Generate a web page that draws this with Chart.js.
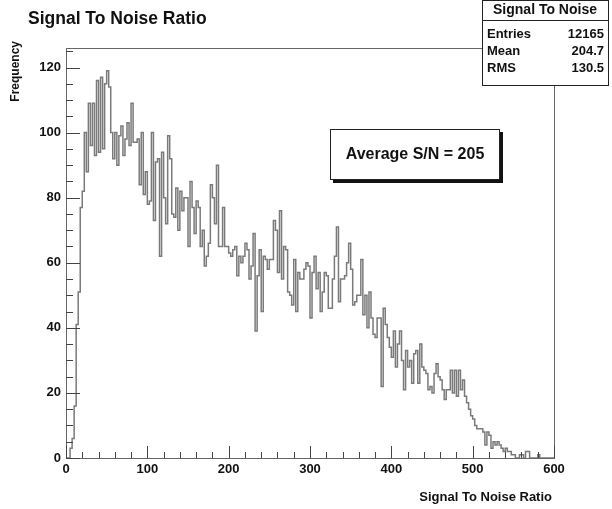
<!DOCTYPE html>
<html>
<head>
<meta charset="utf-8">
<script src="https://cdn.jsdelivr.net/npm/chart.js@4.4.1/dist/chart.umd.min.js"></script>
<style>
  html, body { margin: 0; padding: 0; background: #fff; }
  #wrap { width: 612px; height: 509px; position: relative; }
</style>
</head>
<body>
<div id="wrap"><canvas id="myChart"></canvas></div>
<script>
// histogram: 240 bins of width 2.5 from 0 to 600
const xMin = 0;
const xMax = 600;
const binWidth = 2.5;
const counts = [
  0, 0, 0, 3, 6, 16, 41, 51, 77, 82,
  100, 88, 109, 96, 109, 93, 116, 94, 117, 95,
  115, 119, 114, 100, 92, 100, 90, 99, 102, 93,
  98, 103, 96, 109, 97, 97, 98, 84, 100, 81,
  88, 78, 79, 100, 73, 91, 92, 62, 94, 80,
  72, 99, 92, 75, 74, 83, 70, 82, 76, 80,
  80, 65, 85, 77, 69, 79, 77, 65, 70, 59,
  62, 66, 84, 80, 72, 90, 65, 65, 77, 65,
  65, 63, 62, 64, 65, 56, 62, 60, 62, 66,
  64, 55, 59, 69, 39, 56, 64, 45, 62, 61,
  58, 61, 61, 73, 70, 57, 76, 55, 65, 64,
  51, 50, 47, 61, 45, 57, 55, 55, 58, 60,
  59, 43, 57, 62, 52, 57, 45, 51, 57, 56,
  46, 46, 55, 62, 71, 48, 55, 55, 56, 60,
  66, 58, 47, 48, 50, 50, 61, 44, 50, 40,
  51, 43, 38, 37, 43, 43, 22, 46, 41, 37,
  34, 31, 39, 28, 35, 39, 30, 21, 33, 28,
  30, 23, 32, 33, 23, 35, 28, 27, 26, 21,
  22, 20, 26, 29, 25, 24, 21, 18, 21, 21,
  27, 20, 27, 19, 27, 21, 24, 19, 17, 15,
  13, 12, 10, 9, 9, 9, 8, 4, 8, 7,
  3, 5, 4, 5, 4, 3, 2, 3, 2, 2,
  1, 1, 0, 0, 1, 1, 0, 2, 2, 0,
  0, 0, 0, 1, 0, 0, 0, 0, 0, 0
];
const yMax = 126;
const xTicks = [0, 100, 200, 300, 400, 500, 600];
const yTicks = [0, 20, 40, 60, 80, 100, 120];
const xMinorStep = 20;
const yMinorStep = 5;

const statsTitle = 'Signal To Noise';
const statsRows = [['Entries', '12165'], ['Mean', '204.7'], ['RMS', '130.5']];
const noteText = 'Average S/N = 205';

// step points at bin left edges, plus closing point at the right edge
const points = counts.map((c, i) => ({ x: xMin + i * binWidth, y: c }));
points.push({ x: xMax, y: counts[counts.length - 1] });

const FONT = "'Liberation Sans', Arial, Helvetica, sans-serif";

function line(ctx, x1, y1, x2, y2) {
  ctx.beginPath(); ctx.moveTo(x1, y1); ctx.lineTo(x2, y2); ctx.stroke();
}

const overlay = {
  id: 'overlay',
  afterDraw(chart) {
    const { ctx, chartArea: a, scales: { x, y } } = chart;
    ctx.save();
    ctx.strokeStyle = '#666';
    ctx.lineWidth = 1;
    ctx.strokeRect(Math.round(a.left) + 0.5, Math.round(a.top) + 0.5,
      Math.round(a.right - a.left), Math.round(a.bottom - a.top));

    // tick marks inside the frame
    ctx.strokeStyle = '#444';
    for (let v = xMin; v <= xMax; v += xMinorStep) {
      const px = Math.round(x.getPixelForValue(v)) + 0.5;
      const len = v % 100 === 0 ? 12 : 6;
      line(ctx, px, a.bottom, px, a.bottom - len);
    }
    for (let v = 0; v <= yMax; v += yMinorStep) {
      const py = Math.round(y.getPixelForValue(v)) + 0.5;
      const len = v % 20 === 0 ? 14 : 7;
      line(ctx, a.left, py, a.left + len, py);
    }

    ctx.fillStyle = '#111';
    ctx.font = 'bold 13px ' + FONT;
    ctx.textAlign = 'center'; ctx.textBaseline = 'top';
    xTicks.forEach(v => ctx.fillText(String(v), x.getPixelForValue(v), a.bottom + 5));
    ctx.textAlign = 'right'; ctx.textBaseline = 'middle';
    yTicks.forEach(v => ctx.fillText(String(v), a.left - 5, y.getPixelForValue(v)));

    // axis titles
    ctx.font = 'bold 13px ' + FONT;
    ctx.textAlign = 'right'; ctx.textBaseline = 'middle';
    ctx.fillText('Signal To Noise Ratio', a.right - 2, 497);
    ctx.save();
    ctx.translate(16, a.top - 7);
    ctx.rotate(-Math.PI / 2);
    ctx.font = 'bold 12px ' + FONT;
    ctx.textAlign = 'right';
    ctx.fillText('Frequency', 0, 0);
    ctx.restore();

    // main title
    ctx.font = 'bold 17.5px ' + FONT;
    ctx.textAlign = 'left'; ctx.textBaseline = 'middle';
    ctx.fillText('Signal To Noise Ratio', 28, 19);

    // stats box
    ctx.fillStyle = '#fff';
    ctx.fillRect(482, 0, 127, 86);
    ctx.strokeStyle = '#222';
    ctx.strokeRect(482.5, 0.5, 126, 85);
    line(ctx, 482, 20.5, 609, 20.5);
    ctx.fillStyle = '#111';
    ctx.font = 'bold 14px ' + FONT;
    ctx.textAlign = 'center';
    ctx.fillText(statsTitle, 545, 10.5);
    ctx.font = 'bold 13px ' + FONT;
    statsRows.forEach((r, i) => {
      const ty = 34 + i * 17;
      ctx.textAlign = 'left'; ctx.fillText(r[0], 487, ty);
      ctx.textAlign = 'right'; ctx.fillText(r[1], 604, ty);
    });

    // annotation pave with shadow
    ctx.fillStyle = '#111';
    ctx.fillRect(333, 132, 170, 51);
    ctx.fillStyle = '#fff';
    ctx.fillRect(330, 129, 170, 51);
    ctx.strokeStyle = '#222';
    ctx.strokeRect(330.5, 129.5, 169, 50);
    ctx.fillStyle = '#111';
    ctx.font = 'bold 16px ' + FONT;
    ctx.textAlign = 'center';
    ctx.fillText(noteText, 415, 155);
    ctx.restore();
  }
};

new Chart(document.getElementById('myChart').getContext('2d'), {
  type: 'line',
  data: {
    datasets: [{
      data: points,
      stepped: 'after',
      borderColor: '#7a7a7a',
      borderWidth: 1.5,
      pointRadius: 0,
      fill: false,
      tension: 0
    }]
  },
  options: {
    responsive: true,
    maintainAspectRatio: false,
    animation: false,
    devicePixelRatio: 1,
    layout: { padding: { left: 66, top: 48, right: 58, bottom: 51 } },
    plugins: { legend: { display: false }, tooltip: { enabled: false } },
    scales: {
      x: { type: 'linear', min: xMin, max: xMax, display: false },
      y: { min: 0, max: yMax, display: false }
    }
  },
  plugins: [overlay]
});
</script>
</body>
</html>
